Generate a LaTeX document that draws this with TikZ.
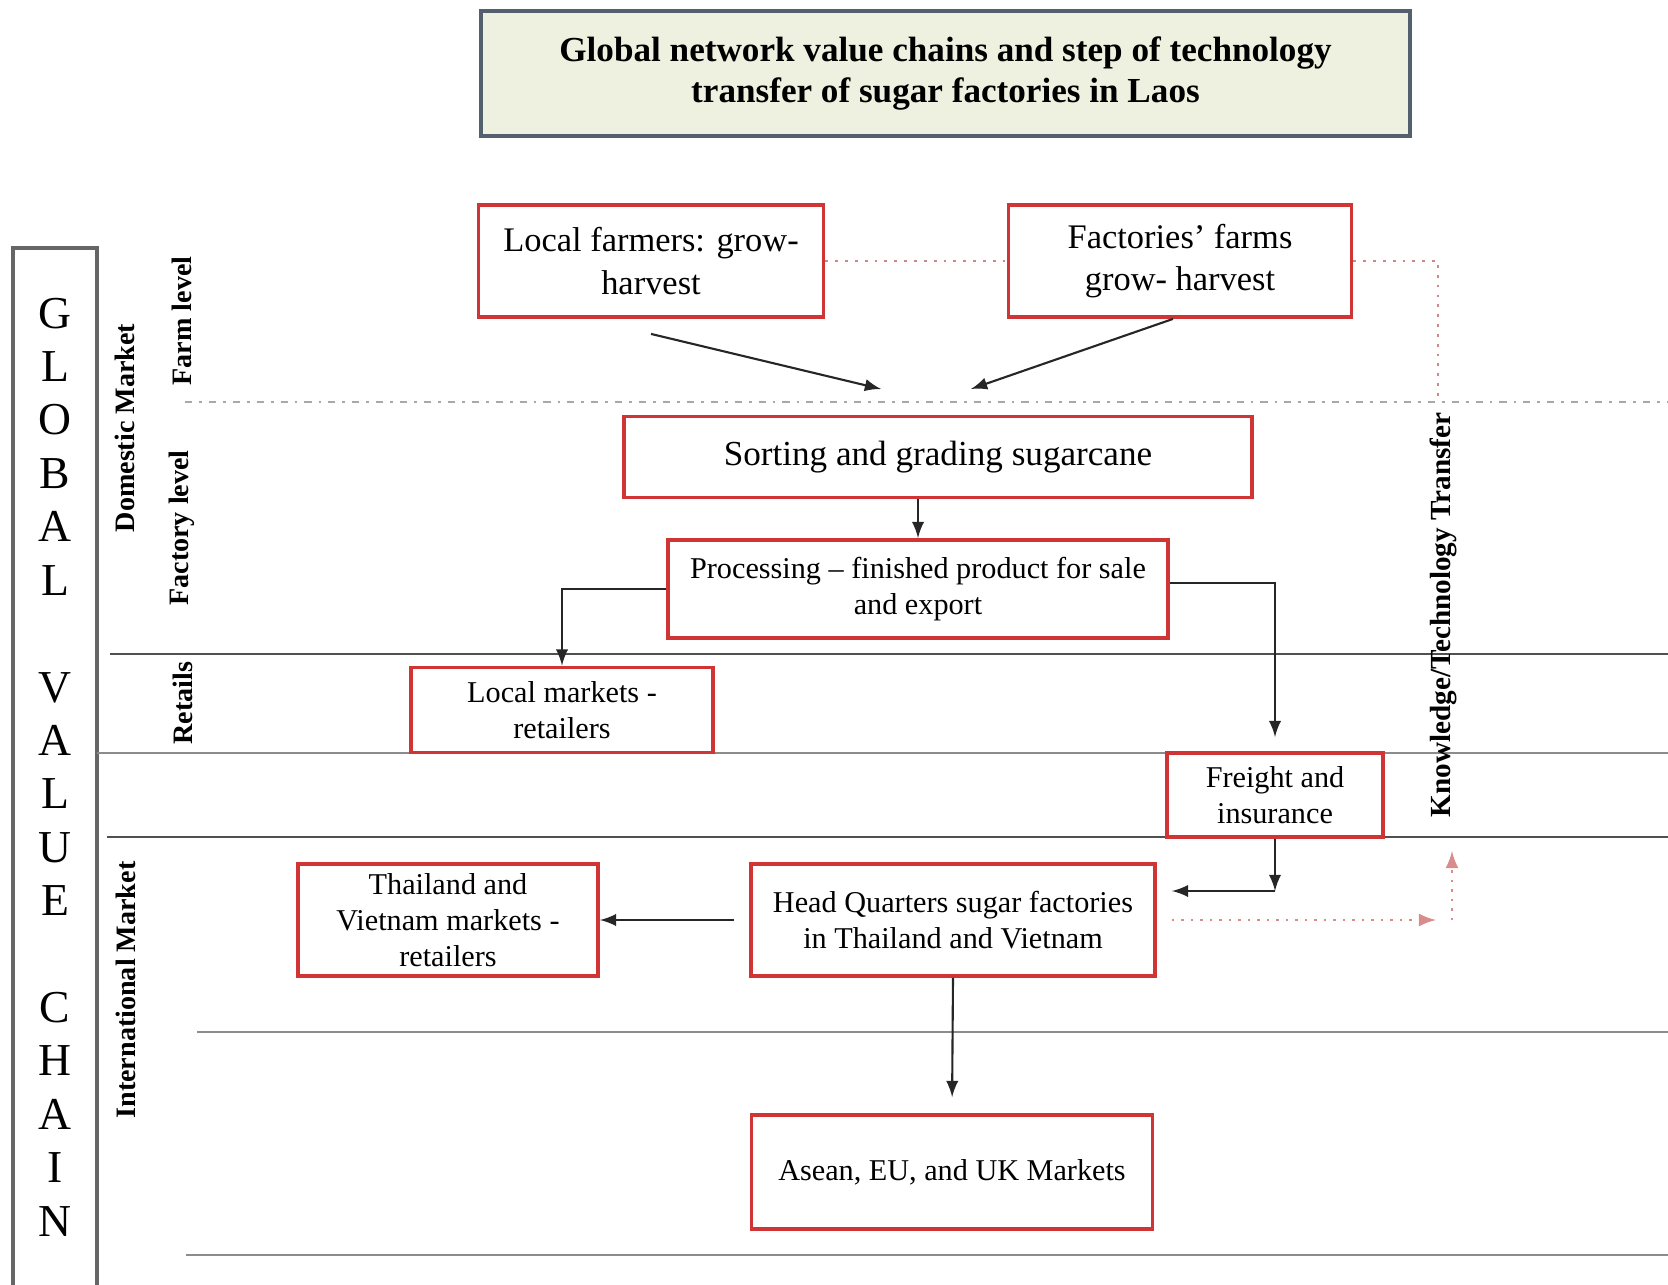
\documentclass[tikz,border=0pt]{standalone}
\usepackage{fontspec}
\setmainfont{Liberation Serif}
\usetikzlibrary{arrows}
\definecolor{boxred}{HTML}{D03535}
\definecolor{linegray}{HTML}{505050}
\definecolor{dotgray}{HTML}{A8A8A8}
\definecolor{ktred}{HTML}{D98C8C}
\definecolor{titlefill}{HTML}{EEF1E0}
\definecolor{titledraw}{HTML}{55606E}
\tikzset{
  box/.style={
    % The shape:
    shape=rectangle,
    % The border:
    line width=1.1pt,
    draw=boxred,
    fill=white,
    % The text:
    align=center,
    font=\fontsize{8.6}{10.3}\selectfont,
    inner sep=2pt}}
\tikzset{
	farmbox/.style={
		box,font=\fontsize{9.8}{12}\selectfont},
	titlebox/.style={
		% The shape:
		rectangle,minimum width=9.29cm,minimum height=1.25cm,
		% The rest
		line width=1.3pt,draw=titledraw,fill=titlefill,
		align=center,font=\fontsize{10}{11.6}\selectfont\bfseries},
	sidelabel/.style={
		rotate=90,font=\fontsize{8}{9}\selectfont\bfseries,inner sep=0pt},
	arr/.style={-latex,draw=black!85,line width=0.6pt},
	ktarr/.style={-latex,draw=ktred,line width=0.7pt,dotted},
	divider/.style={draw=linegray,line width=0.7pt}}

\begin{document}
\begin{tikzpicture}
	\useasboundingbox (0,0) rectangle (16.68,-12.85);
	% Title
	\node[titlebox] (title) at (9.455,-0.735)
		{Global network value chains and step of technology\\transfer of sugar factories in Laos};
	% The GLOBAL VALUE CHAIN column
	\draw[line width=0.9pt,draw=black!60] (0.13,-12.85) -- (0.13,-2.48) -- (0.97,-2.48) -- (0.97,-12.85);
	\node[align=center,font=\fontsize{13}{15.2}\selectfont,inner sep=0pt] (gvc) at (0.55,-7.67)
		{G\\L\\O\\B\\A\\L\\~\\V\\A\\L\\U\\E\\~\\C\\H\\A\\I\\N};
	% Levels
	\coordinate (dotL) at (1.85,-4.02);
	\coordinate (dotR) at (16.68,-4.02);
	\draw[draw=dotgray,line width=0.8pt,dash pattern=on 2pt off 2pt on 0.8pt off 2pt] (dotL) -- (dotR);
	\draw[divider] (1.10,-6.54) -- (16.68,-6.54);
	\draw[divider,draw=black!45] (0.97,-7.53) -- (16.68,-7.53);
	\draw[divider] (1.07,-8.37) -- (16.68,-8.37);
	\draw[divider,draw=black!45] (1.97,-10.32) -- (16.68,-10.32);
	\draw[divider,draw=black!45] (1.86,-12.55) -- (16.68,-12.55);
	\node[sidelabel] (farm) at (1.82,-3.21) {Farm level};
	\node[sidelabel] (dom) at (1.25,-4.28) {Domestic Market};
	\node[sidelabel] (fact) at (1.82,-5.28) {Factory level};
	\node[sidelabel] (ret) at (1.83,-7.03) {Retails};
	\node[sidelabel] (intl) at (1.26,-9.90) {International Market};
	% The boxes
	\node[farmbox,minimum width=3.45cm,minimum height=1.12cm] (lf) at (6.51,-2.61) {Local farmers: grow-\\harvest};
	\node[farmbox,minimum width=3.43cm,minimum height=1.12cm] (ff) at (11.80,-2.61) {Factories' farms\\grow- harvest};
	\node[box,minimum width=6.28cm,minimum height=0.81cm,font=\fontsize{10}{12}\selectfont] (sort) at (9.38,-4.57) {Sorting and grading sugarcane};
	\node[box,minimum width=5.00cm,minimum height=0.98cm] (proc) at (9.18,-5.89) {Processing -- finished product for sale\\and export};
	\node[box,minimum width=3.02cm,minimum height=0.85cm] (lm) at (5.62,-7.10) {Local markets -\\retailers};
	\node[box,minimum width=2.16cm,minimum height=0.84cm] (fr) at (12.75,-7.95) {Freight and\\insurance};
	\node[box,minimum width=3.00cm,minimum height=1.12cm] (tm) at (4.48,-9.20) {Thailand and\\Vietnam markets -\\retailers};
	\node[box,minimum width=4.04cm,minimum height=1.12cm] (hq) at (9.53,-9.20) {Head Quarters sugar factories\\in Thailand and Vietnam};
	\node[box,minimum width=4.01cm,minimum height=1.14cm] (asia) at (9.52,-11.72) {Asean, EU, and UK Markets};
	\node[sidelabel,font=\fontsize{8.3}{9}\selectfont\bfseries] (kt) at (14.43,-6.15) {Knowledge/Technology Transfer};
	% Lines out of the farms
	\coordinate (mergeL) at (8.81,-3.89);
	\coordinate (mergeR) at (9.71,-3.89);
	\draw[arr] ([yshift=-0.15cm]lf.south) -- (mergeL);
	\draw[arr] ([xshift=-0.07cm]ff.south) -- (mergeR);
	% Lines out of sort
	\draw[arr] (sort.south -| proc.north) -- (proc.north);
	% Lines out of proc
	\draw[arr] (proc.west) -| (lm.north);
	\draw[arr,shorten >=0.14cm] ([yshift=0.06cm]proc.east) -| (fr.north);
	% Lines out of fr
	\coordinate (frturn) at (12.75,-8.91);
	\draw[arr] (fr.south) -- (frturn);
	\draw[arr,shorten >=0.15cm] (frturn) -- (frturn -| hq.east);
	% Lines out of hq
	\draw[arr,shorten <=0.15cm] (hq.west) -- (tm.east);
	\draw[arr,shorten >=0.16cm] (hq.south) -- (asia.north);
	% Knowledge transfer loop
	\coordinate (ktin) at (14.36,-9.20);
	\coordinate (ktlow) at (14.52,-9.20);
	\coordinate (kthigh) at (14.52,-8.51);
	\coordinate (kttop) at (14.38,-2.61);
	\coordinate (ktend) at (14.38,-3.98);
	\draw[ktarr,shorten <=0.15cm] (hq.east) -- (ktin);
	\draw[ktarr] (ktlow) -- (kthigh);
	\draw[draw=ktred!80!gray,line width=0.8pt,dotted] (ff.east) -- (kttop) -- (ktend);
	\draw[draw=ktred!80!gray,line width=0.8pt,dotted] (lf.east) -- (ff.west);
\end{tikzpicture}
\end{document}
